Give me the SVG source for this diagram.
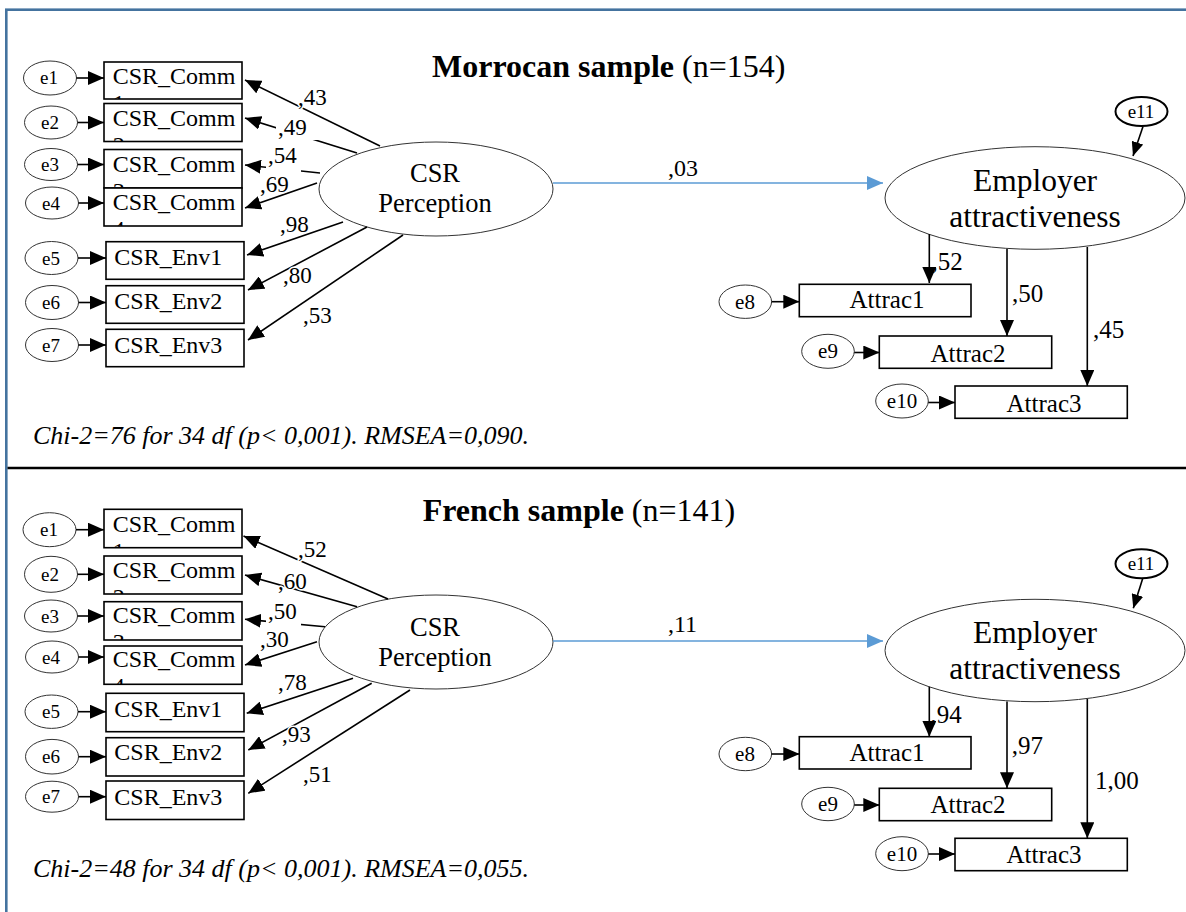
<svg xmlns="http://www.w3.org/2000/svg" width="1186" height="912" viewBox="0 0 1186 912">
<style>
text{font-family:"Liberation Serif","Times New Roman",serif;fill:#000}
.box{fill:#fff;stroke:#000;stroke-width:1.6}
.ell{fill:#fff;stroke:#333;stroke-width:1}
.bt{font-size:24px}
.et{font-size:19px;text-anchor:middle}
.et2{font-size:21px;text-anchor:middle}
.at{font-size:25px;text-anchor:middle}
.ln{stroke:#000;stroke-width:1.6;fill:none;marker-end:url(#ah)}
.lb{stroke:#5b9bd5;stroke-width:1.5;fill:none;marker-end:url(#ahb)}
.ls{stroke:#000;stroke-width:1.6;fill:none;marker-end:url(#ahs)}
.lbl{font-size:23px;paint-order:stroke;stroke:#fff;stroke-width:3px;stroke-linejoin:round}
.lbr{font-size:25px}
.bg{fill:#fff}
.chi{font-size:26px;font-style:italic}
.title{font-size:32px}
</style>
<defs>
<marker id="ah" viewBox="0 0 16 14" refX="16" refY="7" markerWidth="16" markerHeight="14" markerUnits="userSpaceOnUse" orient="auto"><path d="M0,0 L16,7 L0,14 z" fill="#000"/></marker>
<marker id="ahb" viewBox="0 0 16 14" refX="16" refY="7" markerWidth="16" markerHeight="14" markerUnits="userSpaceOnUse" orient="auto"><path d="M0,0 L16,7 L0,14 z" fill="#5b9bd5"/></marker>
<marker id="ahs" viewBox="0 0 14 12" refX="14" refY="6" markerWidth="14" markerHeight="12" markerUnits="userSpaceOnUse" orient="auto"><path d="M0,0 L14,6 L0,12 z" fill="#000"/></marker>
<clipPath id="c1"><rect x="104" y="62" width="138" height="37"/></clipPath>
<clipPath id="c2"><rect x="104" y="103.5" width="138" height="38"/></clipPath>
<clipPath id="c3"><rect x="104" y="149.5" width="138" height="38.5"/></clipPath>
<clipPath id="c4"><rect x="104" y="188" width="138" height="38"/></clipPath>
<clipPath id="d1"><rect x="104" y="509.3" width="138" height="38.4"/></clipPath>
<clipPath id="d2"><rect x="104" y="556" width="138" height="38"/></clipPath>
<clipPath id="d3"><rect x="104" y="601.7" width="138" height="38.3"/></clipPath>
<clipPath id="d4"><rect x="104" y="646" width="138" height="38.3"/></clipPath>
</defs>
<rect x="0" y="0" width="1186" height="912" fill="#fff"/>
<rect x="6.3" y="9.7" width="1220" height="1000" fill="none" stroke="#44739f" stroke-width="2.6"/>
<line x1="7.5" y1="468" x2="1186" y2="468" stroke="#000" stroke-width="2.3"/>

<!-- TOP PANEL -->
<text class="title" x="432" y="77"><tspan font-weight="bold">Morrocan sample</tspan> (n=154)</text>
<text class="chi" x="33" y="444">Chi-2=76 for 34 df (p&lt; 0,001). RMSEA=0,090.</text>

<g id="t-e1"><ellipse class="ell" cx="50" cy="78" rx="26.5" ry="17"/><text class="et" x="49" y="84">e1</text></g>
<g id="t-e2"><ellipse class="ell" cx="51" cy="122.5" rx="26.5" ry="16.5"/><text class="et" x="50" y="129">e2</text></g>
<g id="t-e3"><ellipse class="ell" cx="51" cy="164.5" rx="26.5" ry="16"/><text class="et" x="50" y="171">e3</text></g>
<g id="t-e4"><ellipse class="ell" cx="52" cy="203" rx="26.5" ry="16"/><text class="et" x="51" y="209.5">e4</text></g>
<g id="t-e5"><ellipse class="ell" cx="51.5" cy="258" rx="26.5" ry="16.5"/><text class="et" x="51" y="264.5">e5</text></g>
<g id="t-e6"><ellipse class="ell" cx="52" cy="302.5" rx="26.5" ry="17"/><text class="et" x="51" y="309">e6</text></g>
<g id="t-e7"><ellipse class="ell" cx="52" cy="345" rx="26.5" ry="16.5"/><text class="et" x="51" y="351.5">e7</text></g>

<g id="t-comm1"><rect class="box" x="104" y="62" width="138" height="37"/><text class="bt" x="112.7" y="84">CSR_Comm</text><text class="bt" x="112.7" y="111" clip-path="url(#c1)">1</text></g>
<g id="t-comm2"><rect class="box" x="104" y="103.5" width="138" height="38"/><text class="bt" x="112.7" y="126">CSR_Comm</text><text class="bt" x="112.7" y="153" clip-path="url(#c2)">2</text></g>
<g id="t-comm3"><rect class="box" x="104" y="149.5" width="138" height="38.5"/><text class="bt" x="112.7" y="171.7">CSR_Comm</text><text class="bt" x="112.7" y="198.7" clip-path="url(#c3)">3</text></g>
<g id="t-comm4"><rect class="box" x="104" y="188" width="138" height="38"/><text class="bt" x="112.7" y="210">CSR_Comm</text><text class="bt" x="112.7" y="237" clip-path="url(#c4)">4</text></g>
<g id="t-env1"><rect class="box" x="106" y="241.7" width="138" height="37.6"/><text class="bt" x="114.3" y="265">CSR_Env1</text></g>
<g id="t-env2"><rect class="box" x="106" y="285.7" width="138" height="37.6"/><text class="bt" x="114.3" y="309">CSR_Env2</text></g>
<g id="t-env3"><rect class="box" x="106" y="329.3" width="138" height="37.4"/><text class="bt" x="114.3" y="352.7">CSR_Env3</text></g>

<g id="t-csr"><ellipse class="ell" cx="436" cy="189" rx="117" ry="47"/><text x="435" y="181.7" font-size="26.5" text-anchor="middle">CSR</text><text x="435" y="211.7" font-size="26.5" text-anchor="middle">Perception</text></g>
<g id="t-emp"><ellipse class="ell" cx="1035" cy="198" rx="150" ry="51.3"/><text x="1035" y="190.7" font-size="31.5" text-anchor="middle">Employer</text><text x="1035" y="227.3" font-size="31.5" text-anchor="middle">attractiveness</text></g>
<g id="t-e11"><ellipse cx="1141.5" cy="111.5" rx="26" ry="14.5" fill="#fff" stroke="#000" stroke-width="2"/><text class="et" x="1141" y="118">e11</text></g>

<g id="t-att1"><rect class="box" x="799.3" y="284.3" width="171.7" height="32.4"/><text class="at" x="887" y="308.3">Attrac1</text></g>
<g id="t-att2"><rect class="box" x="879.3" y="336" width="172.4" height="32.3"/><text class="at" x="968" y="361.7">Attrac2</text></g>
<g id="t-att3"><rect class="box" x="955" y="386" width="172.3" height="32.3"/><text class="at" x="1044" y="411.7">Attrac3</text></g>
<g id="t-e8"><ellipse class="ell" cx="745.3" cy="301.7" rx="26.3" ry="16.7"/><text class="et2" x="745" y="308.5">e8</text></g>
<g id="t-e9"><ellipse class="ell" cx="828" cy="351.3" rx="26.3" ry="17"/><text class="et2" x="828" y="358">e9</text></g>
<g id="t-e10"><ellipse class="ell" cx="902" cy="401" rx="26.3" ry="17"/><text class="et2" x="902" y="408">e10</text></g>

<!-- BOTTOM PANEL -->
<text class="title" x="422.7" y="520.7"><tspan font-weight="bold">French sample</tspan> (n=141)</text>
<text class="chi" x="33" y="876.7">Chi-2=48 for 34 df (p&lt; 0,001). RMSEA=0,055.</text>

<g id="b-e1"><ellipse class="ell" cx="49.5" cy="529.7" rx="26.5" ry="17"/><text class="et" x="49" y="536">e1</text></g>
<g id="b-e2"><ellipse class="ell" cx="51" cy="574.3" rx="26.5" ry="18"/><text class="et" x="50" y="581">e2</text></g>
<g id="b-e3"><ellipse class="ell" cx="51" cy="616" rx="26.5" ry="16"/><text class="et" x="50" y="622.5">e3</text></g>
<g id="b-e4"><ellipse class="ell" cx="52" cy="657" rx="26.5" ry="16"/><text class="et" x="51" y="663.5">e4</text></g>
<g id="b-e5"><ellipse class="ell" cx="51.5" cy="711.7" rx="26.5" ry="16.7"/><text class="et" x="51" y="718">e5</text></g>
<g id="b-e6"><ellipse class="ell" cx="52" cy="756.7" rx="26.5" ry="17.3"/><text class="et" x="51" y="763">e6</text></g>
<g id="b-e7"><ellipse class="ell" cx="52" cy="796.7" rx="26.5" ry="15.5"/><text class="et" x="51" y="803">e7</text></g>

<g id="b-comm1"><rect class="box" x="104" y="509.3" width="138" height="38.4"/><text class="bt" x="112.7" y="531.7">CSR_Comm</text><text class="bt" x="112.7" y="558.7" clip-path="url(#d1)">1</text></g>
<g id="b-comm2"><rect class="box" x="104" y="556" width="138" height="38"/><text class="bt" x="112.7" y="577.7">CSR_Comm</text><text class="bt" x="112.7" y="604.7" clip-path="url(#d2)">2</text></g>
<g id="b-comm3"><rect class="box" x="104" y="601.7" width="138" height="38.3"/><text class="bt" x="112.7" y="623.3">CSR_Comm</text><text class="bt" x="112.7" y="650.3" clip-path="url(#d3)">3</text></g>
<g id="b-comm4"><rect class="box" x="104" y="646" width="138" height="38.3"/><text class="bt" x="112.7" y="666.7">CSR_Comm</text><text class="bt" x="112.7" y="693.7" clip-path="url(#d4)">4</text></g>
<g id="b-env1"><rect class="box" x="106" y="693.3" width="138" height="38.4"/><text class="bt" x="114.3" y="716.7">CSR_Env1</text></g>
<g id="b-env2"><rect class="box" x="106" y="737.7" width="138" height="38.3"/><text class="bt" x="114.3" y="760">CSR_Env2</text></g>
<g id="b-env3"><rect class="box" x="106" y="781" width="138" height="38.5"/><text class="bt" x="114.3" y="805">CSR_Env3</text></g>

<g id="b-csr"><ellipse class="ell" cx="436" cy="642" rx="117" ry="47"/><text x="435" y="636" font-size="26.5" text-anchor="middle">CSR</text><text x="435" y="666" font-size="26.5" text-anchor="middle">Perception</text></g>
<g id="b-emp"><ellipse class="ell" cx="1035" cy="650.5" rx="150" ry="51.2"/><text x="1035" y="642.7" font-size="31.5" text-anchor="middle">Employer</text><text x="1035" y="679.3" font-size="31.5" text-anchor="middle">attractiveness</text></g>
<g id="b-e11"><ellipse cx="1141.5" cy="563.8" rx="26" ry="14.5" fill="#fff" stroke="#000" stroke-width="2"/><text class="et" x="1141" y="570">e11</text></g>

<g id="b-att1"><rect class="box" x="799.3" y="736.7" width="171.7" height="32.3"/><text class="at" x="887" y="760.7">Attrac1</text></g>
<g id="b-att2"><rect class="box" x="879.3" y="788.3" width="172.4" height="32.4"/><text class="at" x="968" y="813.3">Attrac2</text></g>
<g id="b-att3"><rect class="box" x="955" y="838.3" width="172.3" height="32.4"/><text class="at" x="1044" y="863.3">Attrac3</text></g>
<g id="b-e8"><ellipse class="ell" cx="745.3" cy="754" rx="26.3" ry="16.7"/><text class="et2" x="745" y="761">e8</text></g>
<g id="b-e9"><ellipse class="ell" cx="828" cy="804" rx="26.3" ry="16.7"/><text class="et2" x="828" y="811">e9</text></g>
<g id="b-e10"><ellipse class="ell" cx="902" cy="853.7" rx="26.3" ry="17"/><text class="et2" x="902" y="860.5">e10</text></g>

<g id="connectors">
<!-- top: error arrows -->
<line class="ln" x1="76.5" y1="78" x2="104" y2="78"/>
<line class="ln" x1="77.5" y1="122.5" x2="104" y2="122.5"/>
<line class="ln" x1="77.5" y1="164.5" x2="104" y2="164.5"/>
<line class="ln" x1="78.5" y1="203" x2="104" y2="203"/>
<line class="ln" x1="78" y1="258" x2="106" y2="258"/>
<line class="ln" x1="78.5" y1="302.5" x2="106" y2="302.5"/>
<line class="ln" x1="78.5" y1="345" x2="106" y2="345"/>
<line class="ln" x1="771.6" y1="301.7" x2="799.3" y2="301.7"/>
<line class="ln" x1="854.3" y1="352.5" x2="879.3" y2="352.5"/>
<line class="ln" x1="928.3" y1="402.5" x2="955" y2="402.5"/>
<line class="ls" x1="1143" y1="126.5" x2="1133" y2="156"/>
<!-- top loadings -->
<line class="ln" x1="380" y1="146" x2="245" y2="80"/>
<line class="ln" x1="357" y1="153" x2="245" y2="118"/>
<line class="ln" x1="320" y1="173" x2="245" y2="165"/>
<line class="ln" x1="317" y1="183" x2="245" y2="208"/>
<line class="ln" x1="343" y1="222" x2="247" y2="255"/>
<line class="ln" x1="367" y1="227" x2="248" y2="290"/>
<line class="ln" x1="403" y1="235" x2="248" y2="340"/>
<line class="lb" x1="553" y1="183" x2="883" y2="183"/>
<line class="ln" x1="929.3" y1="234" x2="929.3" y2="283"/>
<line class="ln" x1="1007" y1="249" x2="1007" y2="336"/>
<line class="ln" x1="1087.3" y1="247" x2="1087.3" y2="386"/>
<rect class="bg" x="276" y="117" width="42" height="23"/>
<rect class="bg" x="266" y="146" width="35" height="26"/>
<text class="lbl" x="298" y="105">,43</text>
<text class="lbl" x="278" y="135">,49</text>
<text class="lbl" x="268" y="163">,54</text>
<text class="lbl" x="260" y="192">,69</text>
<text class="lbl" x="280" y="232">,98</text>
<text class="lbl" x="283" y="283">,80</text>
<text class="lbl" x="303" y="323">,53</text>
<text x="668" y="176" font-size="24">,03</text>
<text class="lbr" x="931.5" y="270">,52</text>
<text class="lbr" x="1012" y="301.7">,50</text>
<text class="lbr" x="1093" y="338">,45</text>
<!-- bottom: error arrows -->
<line class="ln" x1="76" y1="529.7" x2="104" y2="529.7"/>
<line class="ln" x1="77.5" y1="574.3" x2="104" y2="574.3"/>
<line class="ln" x1="77.5" y1="616" x2="104" y2="616"/>
<line class="ln" x1="78.5" y1="657" x2="104" y2="657"/>
<line class="ln" x1="78" y1="711.7" x2="106" y2="711.7"/>
<line class="ln" x1="78.5" y1="756.7" x2="106" y2="756.7"/>
<line class="ln" x1="78.5" y1="796.7" x2="106" y2="796.7"/>
<line class="ln" x1="771.6" y1="754" x2="799.3" y2="754"/>
<line class="ln" x1="854.3" y1="805" x2="879.3" y2="805"/>
<line class="ln" x1="928.3" y1="854" x2="955" y2="854"/>
<line class="ls" x1="1142.7" y1="578.5" x2="1133.3" y2="608.3"/>
<!-- bottom loadings -->
<line class="ln" x1="388" y1="599" x2="243.5" y2="536"/>
<line class="ln" x1="357" y1="606.7" x2="245" y2="575"/>
<line class="ln" x1="325" y1="626.7" x2="245" y2="619.3"/>
<line class="ln" x1="317" y1="641.7" x2="245" y2="665"/>
<line class="ln" x1="353" y1="678.3" x2="246.7" y2="713.3"/>
<line class="ln" x1="371.7" y1="683.3" x2="248.3" y2="750"/>
<line class="ln" x1="410" y1="690" x2="248.3" y2="793.3"/>
<line class="lb" x1="553" y1="641" x2="883" y2="641"/>
<line class="ln" x1="929.3" y1="686.7" x2="929.3" y2="736.7"/>
<line class="ln" x1="1007" y1="701.5" x2="1007" y2="788.3"/>
<line class="ln" x1="1087.3" y1="699" x2="1087.3" y2="838.3"/>
<rect class="bg" x="266" y="602" width="35" height="24"/>
<text class="lbl" x="298" y="556.7">,52</text>
<text class="lbl" x="278" y="589.3">,60</text>
<text class="lbl" x="268" y="619.3">,50</text>
<text class="lbl" x="260" y="646.7">,30</text>
<text class="lbl" x="278" y="690">,78</text>
<text class="lbl" x="282" y="741.7">,93</text>
<text class="lbl" x="303" y="781.7">,51</text>
<text x="668" y="631.7" font-size="24">,11</text>
<text class="lbr" x="930.5" y="722.7">,94</text>
<text class="lbr" x="1011.7" y="754">,97</text>
<text class="lbr" x="1095" y="789.3">1,00</text>
</g>
</svg>
